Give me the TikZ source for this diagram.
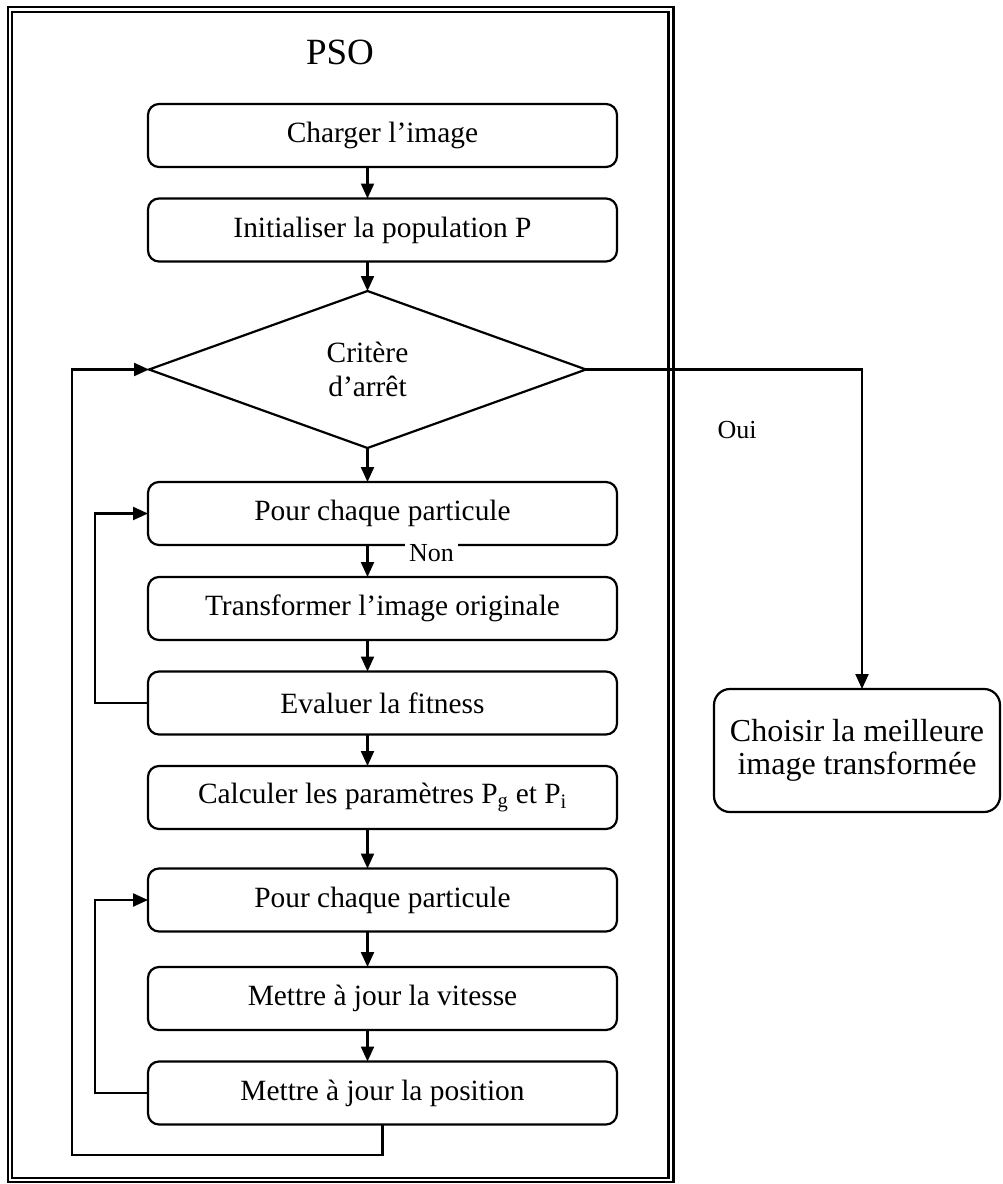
\documentclass[tikz,border=0pt]{standalone}
\usepackage{fontspec}
\setmainfont{Liberation Serif}
\usetikzlibrary{shapes.geometric,arrows.meta}
\begin{document}
\begin{tikzpicture}[x=1pt,y=-1pt,
  box/.style={draw,line width=2.2pt,rounded corners=11pt,minimum width=469pt,minimum height=63pt,inner sep=0pt,outer sep=0pt,font=\fontsize{29.4}{34}\selectfont},
  dec/.style={draw,diamond,line width=2.2pt,inner sep=0pt,outer sep=0pt,minimum width=437pt,minimum height=157pt,align=center,font=\fontsize{29.4}{34}\selectfont},
  arr/.style={line width=2.2pt,-{Triangle[length=15pt,width=13pt]}},
  frame/.style={line width=2.2pt},
  lbl/.style={font=\fontsize{26}{30}\selectfont,inner sep=0pt}]
\useasboundingbox (0,0) rectangle (1002,1184);
% double frame
\draw[frame] (8,7) rectangle (673.5,1182);
\draw[frame] (12,12) rectangle (668.5,1178);
\node[font=\fontsize{37}{40}\selectfont] (title) at (340,52) {PSO};
% boxes
\node[box] (b1) at (382.5,135.5) {Charger l’image};
\node[box] (b2) at (382.5,230) {Initialiser la population P};
\node[dec] (d) at (367.5,369.5) {Critère\\d’arrêt};
\node[box] (b4) at (382.5,513.5) {Pour chaque particule};
\node[box] (b5) at (382.5,608.5) {Transformer l’image originale};
\node[box] (b6) at (382.5,703) {Evaluer la fitness};
\node[box] (b7) at (382.5,797.5) {Calculer les paramètres P\textsubscript{g} et P\textsubscript{i}};
\node[box] (b8) at (382.5,900) {Pour chaque particule};
\node[box] (b9) at (382.5,998.5) {Mettre à jour la vitesse};
\node[box] (b10) at (382.5,1093) {Mettre à jour la position};
\node[box,minimum width=286pt,minimum height=123pt,rounded corners=16pt,align=center,font=\fontsize{32}{33}\selectfont] (c) at (857,750.5) {Choisir la meilleure\\image transformée};
% labels
\node[lbl,fill=white,inner xsep=4pt,inner ysep=2pt] (non) at (431.5,553) {Non};
\node[lbl] (oui) at (737,430) {Oui};
% helper coordinates
\coordinate (l1) at (95,0);
\coordinate (l2) at (72,1155);
\coordinate (oc) at (862,0);
% straight arrows
\draw[arr] (b1.south -| d.center) -- (b2.north -| d.center);
\draw[arr] (b2.south -| d.center) -- (d.north);
\draw[arr] (d.south) -- (b4.north -| d.center);
\draw[arr] (b4.south -| d.center) -- (b5.north -| d.center);
\draw[arr] (b5.south -| d.center) -- (b6.north -| d.center);
\draw[arr] (b6.south -| d.center) -- (b7.north -| d.center);
\draw[arr] (b7.south -| d.center) -- (b8.north -| d.center);
\draw[arr] (b8.south -| d.center) -- (b9.north -| d.center);
\draw[arr] (b9.south -| d.center) -- (b10.north -| d.center);
% loops
\draw[arr] (b6.west) -- (b6.west -| l1) |- (b4.west);
\draw[arr] (b10.west) -- (b10.west -| l1) |- (b8.west);
\draw[arr] (b10.south) |- (l2) |- (d.west);
% Oui branch
\draw[arr] (d.east) -| (c.north -| oc);
\end{tikzpicture}
\end{document}
